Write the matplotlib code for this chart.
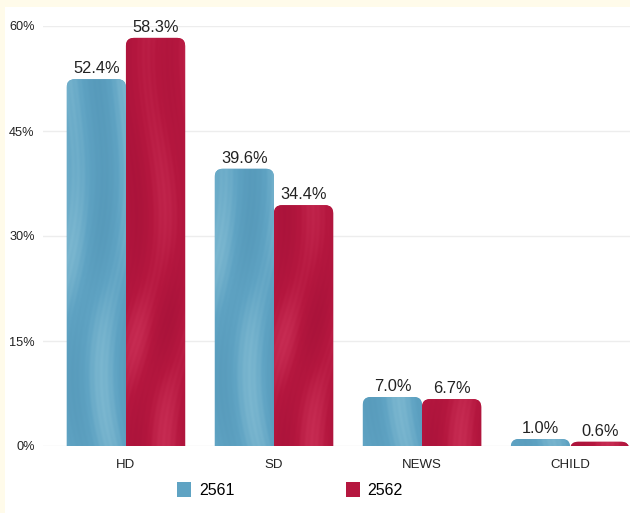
import numpy as np
import matplotlib
matplotlib.use("Agg")
import matplotlib.pyplot as plt
from matplotlib.patches import FancyBboxPatch, Rectangle

plt.rcParams['font.family'] = ['Liberation Sans', 'DejaVu Sans']

categories = ["HD", "SD", "NEWS", "CHILD"]
series_names = ["2561", "2562"]
values_2561 = [52.4, 39.6, 7.0, 1.0]
values_2562 = [58.3, 34.4, 6.7, 0.6]
yticks = [0, 15, 30, 45, 60]
ytick_labels = ["0%", "15%", "30%", "45%", "60%"]

blue = "#5fa3c3"
red = "#b5173f"

W, H = 630, 513
fig = plt.figure(figsize=(W / 100, H / 100), dpi=100)
fig.patch.set_facecolor("#fffbea")
# white card
fig.add_artist(Rectangle((5 / W, 0), 1, 1 - 7 / H, transform=fig.transFigure,
                         facecolor="white", edgecolor="none", zorder=0))

ax_left, ax_right = 43 / W, 1.0
ax_bottom, ax_top = 1 - 446 / H, 1 - 26 / H
ax = fig.add_axes([ax_left, ax_bottom, ax_right - ax_left, ax_top - ax_bottom])
ax.set_facecolor("none")
for s in ax.spines.values():
    s.set_visible(False)
ax.set_yticks(yticks)
ax.set_yticklabels(ytick_labels, fontsize=9.2, color="#222222")
ax.set_xticks(range(len(categories)))
ax.set_xticklabels(categories, fontsize=9.5, color="#222222")
ax.tick_params(axis="both", length=0)
ax.tick_params(axis="y", pad=6)
ax.tick_params(axis="x", pad=9)
ax.grid(axis="y", color="#ededed", linewidth=1)
ax.set_axisbelow(True)

# painted brush-stroke style texture
def texture(base, light, dark, n=240, phase=0.0):
    yy, xx = np.mgrid[0:n, 0:80].astype(float)
    swirl = np.sin(yy * 0.03 + phase) * 18 + np.sin(yy * 0.011 + 2 * phase) * 25
    t = (np.sin((xx + swirl) * 0.09) * 0.55
         + np.sin((xx - swirl * 0.7) * 0.06 + yy * 0.015) * 0.35
         + np.sin((xx + swirl) * 0.9) * 0.08)
    t = (t - t.min()) / (t.max() - t.min())
    base = np.array(matplotlib.colors.to_rgb(base))
    light = np.array(matplotlib.colors.to_rgb(light))
    dark = np.array(matplotlib.colors.to_rgb(dark))
    w_l = np.clip(t - 0.5, 0, None)[..., None] * 2
    w_d = np.clip(0.5 - t, 0, None)[..., None] * 2
    img = base + (light - base) * w_l * 0.6 + (dark - base) * w_d * 0.45
    return np.clip(img, 0, 1)

tex_blue = texture(blue, "#8ec4d8", "#4d8fb0", phase=0.3)
tex_red = texture(red, "#d33a60", "#9e0f36", phase=1.1)

width = 0.4
xlim = (-0.56, 3.405)
ylim = (0, 60)
px_x = (xlim[1] - xlim[0]) / (W * (ax_right - ax_left))
px_y = (ylim[1] - ylim[0]) / (H * (ax_top - ax_bottom))
radius = 8 * px_x
aspect = px_y / px_x

for i, cat in enumerate(categories):
    for j, (vals, col, tex) in enumerate([(values_2561, blue, tex_blue),
                                           (values_2562, red, tex_red)]):
        v = vals[i]
        x0 = i - width + j * width
        bottom = -3
        patch = FancyBboxPatch((x0, bottom), width, v - bottom,
                               boxstyle=f"round,pad=0,rounding_size={radius}",
                               mutation_aspect=aspect,
                               facecolor=col, edgecolor="none", zorder=2)
        ax.add_patch(patch)
        im = ax.imshow(tex, extent=(x0, x0 + width, bottom, 60), origin="lower",
                       aspect="auto", zorder=2.5, interpolation="bilinear")
        im.set_clip_path(patch)
        ax.text(x0 + width / 2, v + 0.45, f"{v:.1f}%", ha="center", va="bottom",
                fontsize=11.8, color="#222222", zorder=3)

ax.set_xlim(*xlim)
ax.set_ylim(*ylim)

# legend
handles = [Rectangle((0, 0), 1, 1, facecolor=blue, edgecolor="none"),
           Rectangle((0, 0), 1, 1, facecolor=red, edgecolor="none")]
fig.legend(handles, series_names, loc="center", ncol=2,
           bbox_to_anchor=(290 / W, 1 - 490 / H), frameon=False,
           fontsize=11.5, handlelength=0.85, handleheight=1.1,
           handletextpad=0.5, columnspacing=7.0)

fig.savefig("out.png", dpi=100)
